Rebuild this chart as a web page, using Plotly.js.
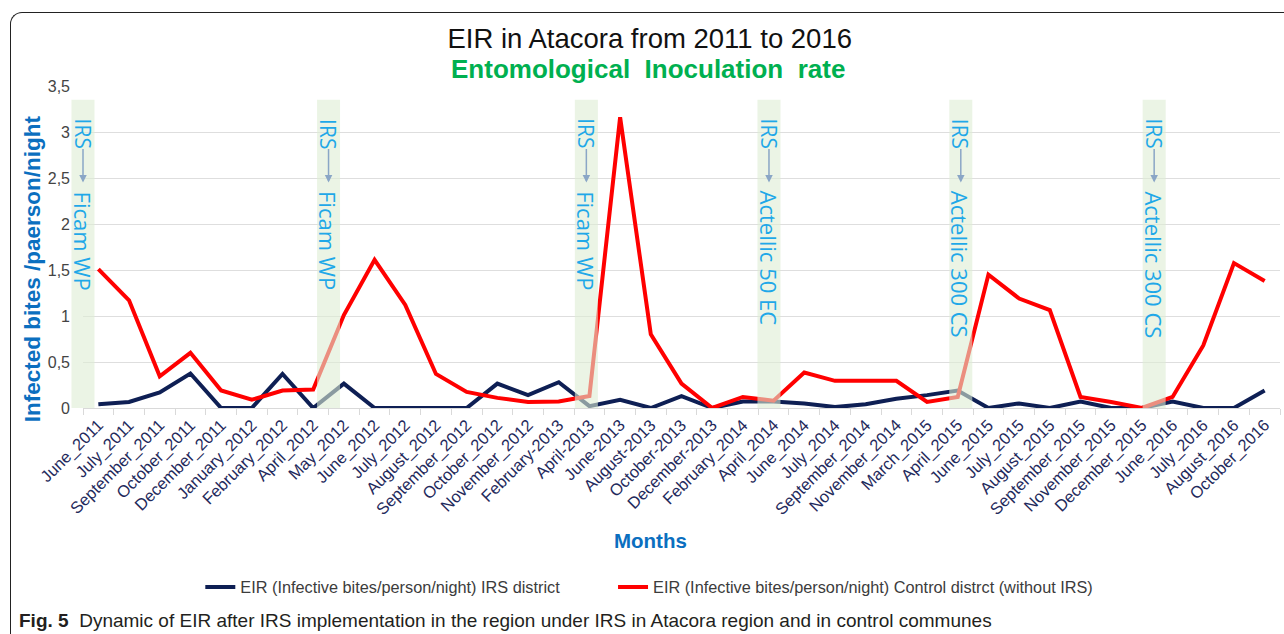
<!DOCTYPE html>
<html>
<head>
<meta charset="utf-8">
<script src="https://cdn.plot.ly/plotly-3.0.1.min.js"></script>
<style>
  html, body { margin: 0; padding: 0; background: #ffffff; }
  #wrap { position: relative; width: 1284px; height: 634px; overflow: hidden; }
  #frame { position: absolute; left: 10px; top: 12px; width: 1290px; height: 640px;
           border-left: 1.5px solid #222; border-top: 1.5px solid #222; border-top-left-radius: 12px; }
  #chart { position: absolute; left: 0; top: 0; width: 1284px; height: 634px; }
</style>
</head>
<body>
<div id="wrap"><div id="frame"></div><div id="chart"></div></div>
<script>
const categories = [
  "June_2011","July_2011","September_2011","October_2011","December_2011","January_2012",
  "February_2012","April_2012","May_2012","June_2012","July_2012","August_2012",
  "September_2012","October_2012","November_2012","February-2013","April-2013","June-2013",
  "August-2013","October-2013","December-2013","February_2014","April_2014","June_2014",
  "July_2014","September_2014","November_2014","March_2015","April_2015","June_2015",
  "July_2015","August_2015","September_2015","November_2015","December_2015","June_2016",
  "July_2016","August_2016","October_2016"
];
const irsDistrict = [
  0.04,0.065,0.17,0.375,0,0,0.37,0,0.265,0,0,0,0,0.265,0.14,0.28,0.02,0.09,0,0.13,
  0,0.07,0.07,0.05,0.01,0.04,0.10,0.14,0.19,0,0.05,0,0.07,0,0,0.07,0,0,0.19
];
const controlDistrict = [
  1.51,1.17,0.345,0.60,0.19,0.09,0.19,0.20,1.01,1.61,1.12,0.37,0.175,0.11,0.065,0.07,0.13,3.16,0.80,0.265,
  0,0.12,0.08,0.385,0.295,0.295,0.295,0.065,0.12,1.45,1.19,1.065,0.12,0.065,0,0.12,0.68,1.575,1.38
];
const seriesNames = [
  "EIR (Infective bites/person/night) IRS district",
  "EIR (Infective bites/person/night) Control distrct (without IRS)"
];
// IRS campaigns: position on the category axis (index, may fall between months) and product
const irsPositions = [-0.5, 7.5, 15.9, 21.85, 28.1, 34.4];
const irsProducts = ["Ficam WP","Ficam WP","Ficam WP","Actellic 50 EC","Actellic 300 CS","Actellic 300 CS"];

const N = categories.length;
const toPaper = idx => (idx + 0.5) / N;

const traces = [
  { x: categories, y: irsDistrict, name: seriesNames[0], type: "scatter", mode: "lines",
    line: { color: "#0e1f54", width: 4 }, legend: "legend" },
  { x: categories, y: controlDistrict, name: seriesNames[1], type: "scatter", mode: "lines",
    line: { color: "#ff0000", width: 4 }, legend: "legend2" }
];

const shapes = [];
const annotations = [];
const bandHalf = 0.375 / N;
const textColor = "#1fa8e8";
irsPositions.forEach((p, i) => {
  const xc = toPaper(p);
  shapes.push({ type: "rect", xref: "paper", yref: "paper", x0: xc - bandHalf, x1: xc + bandHalf,
    y0: 0, y1: 0.957, fillcolor: "rgba(222,237,212,0.6)", line: { width: 0 }, layer: "above" });
  annotations.push({ xref: "paper", yref: "paper", x: xc, y: 0.905, xanchor: "center", yanchor: "top",
    text: "IRS", textangle: 90, showarrow: false, font: { family: "Open Sans, sans-serif", size: 21, color: textColor } });
  annotations.push({ xref: "paper", yref: "paper", x: xc, y: 0.700, text: "", showarrow: true,
    ax: 0, ay: -35, arrowhead: 2, arrowsize: 1, arrowwidth: 1.5, arrowcolor: "#8aa6c6" });
  annotations.push({ xref: "paper", yref: "paper", x: xc, y: 0.680, xanchor: "center", yanchor: "top",
    text: irsProducts[i], textangle: 90, showarrow: false, font: { family: "Open Sans, sans-serif", size: 22, color: textColor } });
});

annotations.push({ xref: "paper", yref: "paper", x: 0.472, y: 1.052, xanchor: "center", yanchor: "middle",
  text: "<b>Entomological  Inoculation  rate</b>", showarrow: false,
  font: { family: "Liberation Sans, Arial, sans-serif", size: 26, color: "#00b050" } });
annotations.push({ xref: "paper", yref: "paper", x: -0.0426, y: 0.431, xanchor: "center", yanchor: "middle",
  text: "<b>Infected bites /paerson/night</b>", textangle: -90, showarrow: false,
  font: { family: "Liberation Sans, Arial, sans-serif", size: 22.5, color: "#0b6fbf" } });
annotations.push({ xref: "paper", yref: "paper", x: 0.474, y: -0.412, xanchor: "center", yanchor: "middle",
  text: "<b>Months</b>", showarrow: false,
  font: { family: "Liberation Sans, Arial, sans-serif", size: 20.5, color: "#0b6fbf" } });
annotations.push({ xref: "paper", yref: "paper", x: -0.055, y: -0.66, xanchor: "left", yanchor: "middle",
  text: "<b>Fig. 5</b>  Dynamic of EIR after IRS implementation in the region under IRS in Atacora region and in control communes",
  showarrow: false, font: { family: "Liberation Sans, Arial, sans-serif", size: 19, color: "#231f20" } });

const legendFont = { family: "Liberation Sans, Arial, sans-serif", size: 16.3, color: "#3c3c3c" };

const layout = {
  width: 1284, height: 634,
  margin: { l: 83, r: 4, t: 86, b: 226 },
  paper_bgcolor: "rgba(0,0,0,0)", plot_bgcolor: "rgba(0,0,0,0)",
  separators: ",.",
  showlegend: true,
  title: { text: "EIR in Atacora from 2011 to 2016", x: 0.506, xanchor: "center", y: 0.94, yanchor: "middle",
    font: { family: "Liberation Sans, Arial, sans-serif", size: 27.5, color: "#111111" } },
  xaxis: {
    type: "category", range: [-0.5, N - 0.5], tickangle: -45, tickson: "boundaries",
    ticks: "outside", ticklen: 6, tickcolor: "#d9d9d9", showline: true, linecolor: "#d9d9d9",
    showgrid: false, zeroline: false, automargin: false,
    tickfont: { family: "Liberation Sans, Arial, sans-serif", size: 16.5, color: "#1f2a5c" }
  },
  yaxis: {
    range: [0, 3.5], dtick: 0.5, showgrid: true, gridcolor: "#dedede", gridwidth: 1,
    zeroline: false, showline: false, ticks: "", ticklabelstandoff: 12, automargin: false,
    tickfont: { family: "Liberation Sans, Arial, sans-serif", size: 16, color: "#444444" }
  },
  legend: { orientation: "h", x: 0.098, xanchor: "left", y: -0.557, yanchor: "middle", font: legendFont },
  legend2: { orientation: "h", x: 0.4428, xanchor: "left", y: -0.557, yanchor: "middle", font: legendFont },
  shapes: shapes,
  annotations: annotations
};

Plotly.newPlot("chart", traces, layout, { displayModeBar: false, responsive: false });
</script>
</body>
</html>
